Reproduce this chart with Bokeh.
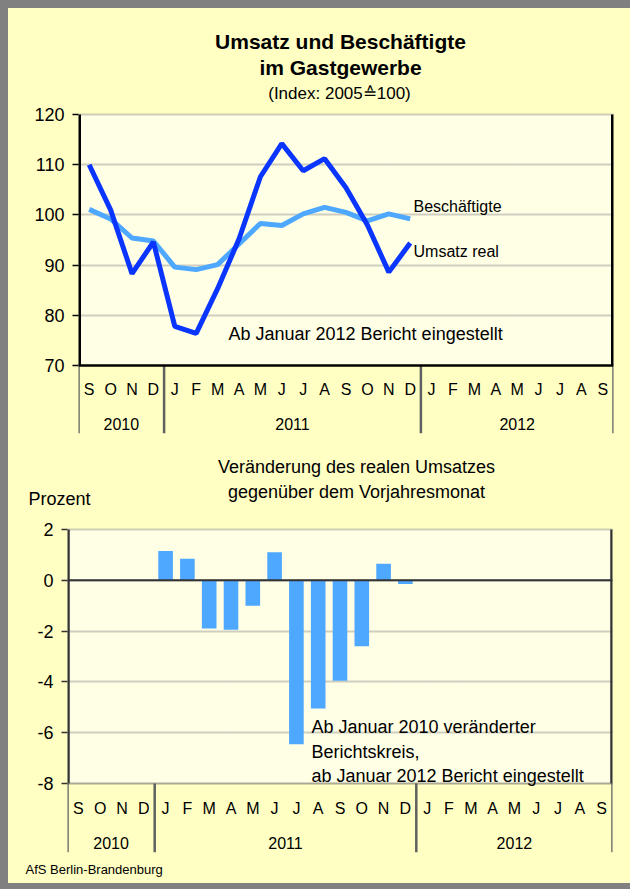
from bokeh.plotting import figure
from bokeh.models import FixedTicker, Label, Span, Range1d
from bokeh.core.properties import value
from bokeh.layouts import column
from bokeh.embed import file_html
from bokeh.resources import INLINE

# ---------------- data ----------------
months = ["S", "O", "N", "D",
          "J", "F", "M", "A", "M", "J", "J", "A", "S", "O", "N", "D",
          "J", "F", "M", "A", "M", "J", "J", "A", "S"]
years = ["2010", "2011", "2012"]
year_bounds = [0, 4, 16, 25]          # month index where each year block starts / ends

# Sep 2010 .. Dec 2011, index 2005 = 100
umsatz_real = [110.0, 101.0, 88.3, 94.6, 77.8, 76.4, 85.3, 95.2, 107.6, 114.2,
               108.8, 111.2, 105.4, 98.0, 88.6, 94.4]
beschaeftigte = [101.1, 99.2, 95.4, 94.8, 89.6, 89.1, 90.1, 94.2, 98.3, 97.9,
                 100.2, 101.5, 100.5, 98.8, 100.2, 99.2]

# Jan 2011 .. Dec 2011, change vs. previous-year month (%)
bar_start = 4
veraenderung = [1.15, 0.85, -1.9, -1.95, -1.0, 1.1, -6.45, -5.05, -3.95, -2.6, 0.65, -0.15]

top_ticks = [70, 80, 90, 100, 110, 120]
bot_ticks = [-8, -6, -4, -2, 0, 2]

# ---------------- style ----------------
FONT = "Liberation Sans"
OUTER = "#FFFFC4"
INNER = "#FFFFE6"
DARK = "#0A35FF"
LIGHT = "#4EA8FF"
GRID = "#9C9C9C"
SEP = "#606060"
W = 622
N = len(months)

month_x = [i + 0.5 for i in range(N)]
year_x = [(year_bounds[k] + year_bounds[k + 1]) / 2 for k in range(len(years))]


# page-pixel helpers (layout positions only)
def ty(py):   # top chart: 120 at y=114, 70 at y=365
    return 120 - (py - 114) / (365 - 114) * 50


def tx(px):   # top chart: month 0 at x=78, 25 at x=613
    return (px - 78) / (613 - 78) * N


def by(py):   # bottom chart: 2 at y=529, -8 at y=783
    return 2 - (py - 529) / (783 - 529) * 10


def bx(px):
    return (px - 67) / (612 - 67) * N


def chart(height, xr, yr, bl, br, bt, bb, ticks, axis_col):
    p = figure(width=W, height=height, x_range=Range1d(*xr), y_range=Range1d(*yr),
               output_backend="svg", toolbar_location=None, frame_align=False,
               x_axis_location=None, y_axis_location="left",
               min_border_left=bl, min_border_right=br, min_border_top=bt, min_border_bottom=bb,
               background_fill_color=OUTER, border_fill_color=OUTER, outline_line_color=None)
    ya = p.yaxis[0]
    ya.ticker = FixedTicker(ticks=ticks)
    ya.major_label_overrides = {t: str(t) for t in ticks}
    ya.major_label_text_font = FONT
    ya.major_label_text_font_size = "18px"
    ya.major_label_text_color = "black"
    ya.major_tick_out = 6
    ya.major_tick_in = 0
    ya.minor_tick_line_color = None
    ya.major_label_standoff = 8
    ya.axis_line_color = None
    ya.major_tick_line_color = axis_col
    ya.major_tick_line_width = 1.5
    p.xgrid.visible = False
    p.ygrid.ticker = FixedTicker(ticks=[t for t in ticks if t != ticks[0]])
    p.ygrid.grid_line_color = GRID
    p.ygrid.grid_line_dash = "1 1"
    p.ygrid.grid_line_width = 2
    # plot-area background
    p.quad(left=[0], right=[N], bottom=[ticks[0]], top=[ticks[-1]], fill_color=INNER,
           line_color=None, level="image")
    # category area: year separators
    p.segment(x0=year_bounds, x1=year_bounds, y0=[yr[0]] * len(year_bounds),
              y1=[ticks[0]] * len(year_bounds), line_color=SEP, line_width=2.5)
    return p


def text_fig(height, xr, yr):
    p = figure(width=W, height=height, x_range=Range1d(*xr), y_range=Range1d(*yr),
               output_backend="svg", toolbar_location=None, frame_align=False,
               x_axis_location=None, y_axis_location=None,
               min_border=0, min_border_left=0, min_border_right=0,
               min_border_top=0, min_border_bottom=0,
               background_fill_color=OUTER, border_fill_color=OUTER, outline_line_color=None)
    p.grid.visible = False
    return p


def add_text(p, x, y, txt, size, align="left", style="normal"):
    p.add_layout(Label(x=x, y=y, text=txt, text_align=align, text_baseline="middle",
                       text_font=FONT, text_font_size=size, text_font_style=style,
                       text_color="black"))


# ---------------- top chart (page y 8..440) ----------------
p1 = chart(432, (0, N), (ty(433), ty(8)), 70, 17, 0, 7, top_ticks, "black")
p1.segment(x0=[0, N], x1=[0, N], y0=[70, 70], y1=[120, 120], line_color="black", line_width=5)
p1.segment(x0=[0], x1=[N], y0=[70], y1=[70], line_color="black", line_width=2.5)
p1.text(x=month_x, y=[ty(389)] * N, text=months, text_align="center", text_baseline="middle",
        text_font=value(FONT), text_font_size="16px", text_color="black")
p1.text(x=year_x, y=[ty(423)] * len(years), text=years, text_align="center", text_baseline="middle",
        text_font=value(FONT), text_font_size="16px", text_color="black")

p1.line([i + 0.5 for i in range(len(beschaeftigte))], beschaeftigte, line_color=LIGHT, line_width=5)
p1.line([i + 0.5 for i in range(len(umsatz_real))], umsatz_real, line_color=DARK, line_width=5)

add_text(p1, tx(340), ty(41), "Umsatz und Beschäftigte", "21px", "center", "bold")
add_text(p1, tx(340), ty(67), "im Gastgewerbe", "21px", "center", "bold")
add_text(p1, tx(339), ty(93), "(Index: 2005\u2259100)", "17px", "center")
add_text(p1, tx(413), ty(206), "Beschäftigte", "16px")
add_text(p1, tx(413), ty(251), "Umsatz real", "16px")
add_text(p1, tx(228), ty(333), "Ab Januar 2012 Bericht eingestellt", "18px")

# ---------------- bottom chart heading (page y 440..515) ----------------
p2a = text_fig(75, (bx(8), bx(630)), (by(515), by(440)))
add_text(p2a, bx(356), by(466), "Veränderung des realen Umsatzes", "18px", "center")
add_text(p2a, bx(356), by(491), "gegenüber dem Vorjahresmonat", "18px", "center")
add_text(p2a, bx(28), by(498), "Prozent", "18px")

# ---------------- bottom chart (page y 515..858) ----------------
p2 = chart(343, (0, N), (by(852), by(515)), 59, 18, 0, 6, bot_ticks, "#333333")
p2.vbar(x=[i + bar_start + 0.5 for i in range(len(veraenderung))], top=veraenderung, width=0.67,
        fill_color=LIGHT, line_color=None)
p2.add_layout(Span(location=0, dimension="width", line_color="#333333", line_width=2))
p2.segment(x0=[0, N], x1=[0, N], y0=[-8, -8], y1=[2, 2], line_color="#333333", line_width=4.5)
p2.segment(x0=[0], x1=[N], y0=[-8], y1=[-8], line_color="#555555", line_width=2, line_dash="1 1")
p2.text(x=month_x, y=[by(808)] * N, text=months, text_align="center", text_baseline="middle",
        text_font=value(FONT), text_font_size="16px", text_color="black")
p2.text(x=year_x, y=[by(842)] * len(years), text=years, text_align="center", text_baseline="middle",
        text_font=value(FONT), text_font_size="16px", text_color="black")
add_text(p2, bx(311), by(726), "Ab Januar 2010 veränderter", "18px")
add_text(p2, bx(311), by(751), "Berichtskreis,", "18px")
add_text(p2, bx(311), by(775), "ab Januar 2012 Bericht eingestellt", "18px")

# ---------------- footer (page y 858..883) ----------------
p3 = text_fig(25, (bx(8), bx(630)), (by(883), by(858)))
add_text(p3, bx(25), by(869), "AfS Berlin-Brandenburg", "13px")

layout = column(p1, p2a, p2, p3,
                styles={"border-left": "8px solid #808080", "border-top": "8px solid #808080",
                        "border-bottom": "6px solid #808080", "background-color": OUTER})
open("out.html", "w").write(file_html(layout, INLINE))
